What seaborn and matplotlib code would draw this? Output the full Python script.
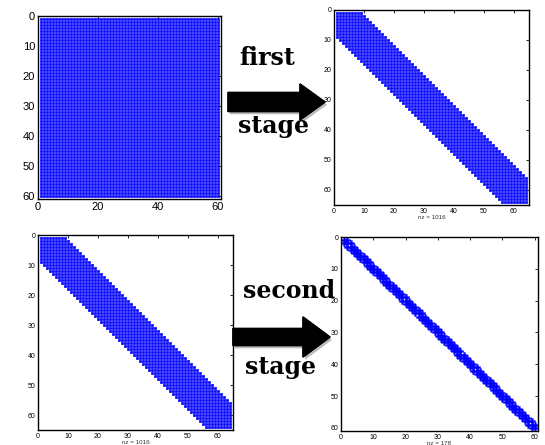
"""Spy plots of a dense, a banded and a tridiagonal matrix with two reduction stages."""

import numpy as np
import pandas as pd
import matplotlib
matplotlib.use("Agg")
import matplotlib.pyplot as plt
import matplotlib.patheffects as pe
from matplotlib.patches import FancyArrow
import seaborn as sns

# --- matrix structure ---
N_DENSE = 60          # full 60x60 block
N_BAND = 64           # 64x64 band, |i-j| <= 8  -> nz = 1016
BAND_HALF = 8
N_TRI = 60            # tridiagonal 60x60      -> nz = 178
TRI_HALF = 1

DENSE_XTICKS = [0, 20, 40, 60]
DENSE_YTICKS = [0, 10, 20, 30, 40, 50, 60]
BAND_TICKS = [0, 10, 20, 30, 40, 50, 60]
TRI_TICKS = [0, 10, 20, 30, 40, 50, 60]

STAGE_WORDS = ["first", "stage", "second", "stage"]
BLUE = "#0000ff"

W, H = 545, 445


def band_matrix(n, half):
    i, j = np.indices((n, n))
    return np.abs(i - j) <= half


def spy(ax, mat, size, marker, xticks, yticks, fontsize, nz_label=True):
    rows, cols = np.nonzero(mat)
    df = pd.DataFrame({"col": cols + 1, "row": rows + 1})
    sns.scatterplot(data=df, x="col", y="row", ax=ax, color=BLUE, marker=marker,
                    s=size, linewidth=0, legend=False)
    ax.collections[-1].set_snap(False)
    n = mat.shape[0]
    ax.set_xlim(0, n + 1)
    ax.set_ylim(n + 1, 0)
    ax.set_xticks(xticks)
    ax.set_yticks(yticks)
    ax.tick_params(direction="in", length=2.5, width=0.6, top=True, right=True,
                   labelsize=fontsize, pad=2, colors="black")
    ax.set_ylabel("")
    if nz_label:
        ax.set_xlabel(f"nz = {len(df)}", fontsize=4.5, labelpad=0, color="#333333")
    else:
        ax.set_xlabel("")
    for sp in ax.spines.values():
        sp.set_linewidth(1.0)
        sp.set_color("black")


sns.set_theme(style="white")
plt.rcParams["font.family"] = ["Liberation Sans", "DejaVu Sans"]
plt.rcParams["text.color"] = "black"

fig = plt.figure(figsize=(W / 100, H / 100), dpi=100)

dense = np.ones((N_DENSE, N_DENSE), dtype=bool)
band = band_matrix(N_BAND, BAND_HALF)
tri = band_matrix(N_TRI, TRI_HALF)

def box(left, top, right, bottom):
    return [left / W, 1 - bottom / H, (right - left) / W, (bottom - top) / H]

# axes sized so one matrix cell is exactly 3 px -> even dot grid
ax_tl = fig.add_axes(box(38, 16, 221, 199))
ax_tr = fig.add_axes(box(334, 10, 529, 205))
ax_bl = fig.add_axes(box(38, 235, 233, 430))
ax_br = fig.add_axes(box(341, 237, 538, 431))

spy(ax_tl, dense, 3.8, "s", DENSE_XTICKS, DENSE_YTICKS, 8, nz_label=False)
spy(ax_tr, band, 3.8, "s", BAND_TICKS, BAND_TICKS, 5)
spy(ax_bl, band, 3.8, "s", BAND_TICKS, BAND_TICKS, 5)
spy(ax_br, tri, 22, "P", TRI_TICKS, TRI_TICKS, 5)

# --- arrows (pixel coords -> inches) ---
shadow = [pe.withSimplePatchShadow(offset=(1.5, -2), shadow_rgbFace="#777777", alpha=0.5),
          pe.Normal()]
for x0, tip, yc, w, hw, hl in [(228, 325, 102, 19, 36, 25), (233, 330, 337, 17, 40, 27)]:
    arr = FancyArrow(x0 / 100, (H - yc) / 100, (tip - x0) / 100, 0,
                     width=w / 100, head_width=hw / 100, head_length=hl / 100,
                     length_includes_head=True, color="black",
                     transform=fig.dpi_scale_trans, zorder=5)
    arr.set_path_effects(shadow)
    fig.patches.append(arr)

# --- stage labels ---
for word, (x, y) in zip(STAGE_WORDS, [(239, 65), (238, 133), (243, 298), (245, 374)]):
    fig.text(x / W, 1 - y / H, word, family="DejaVu Serif", fontweight="bold",
             fontsize=17, color="black", ha="left", va="baseline", zorder=6)

fig.savefig("out.png", dpi=100)
